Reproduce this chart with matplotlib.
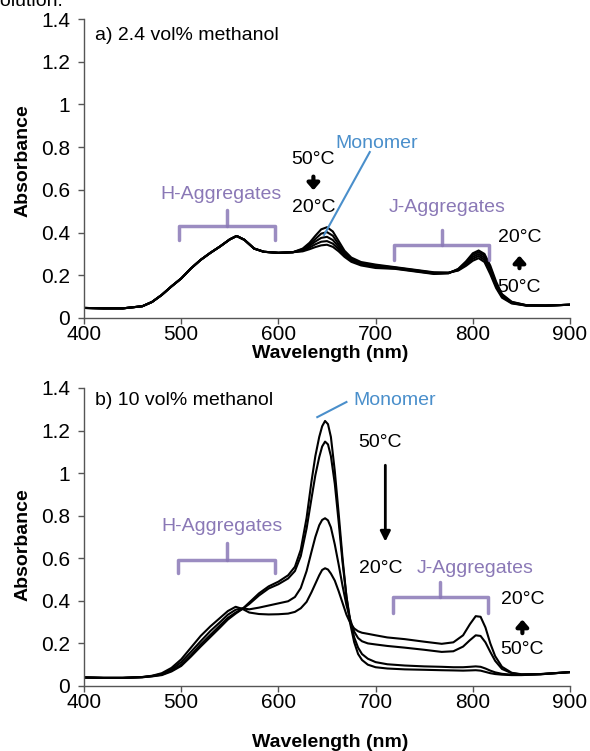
import numpy as np
import matplotlib.pyplot as plt
from matplotlib.ticker import FuncFormatter

plt.rcParams['font.family'] = ['Liberation Sans', 'DejaVu Sans']

# ---- panel a: 2.4 vol% methanol (5 temperatures, 50C -> 20C) ----
wl_a = [400, 420, 440, 460, 470, 480, 490, 500, 510, 520, 530, 540, 550, 557, 565,
        575, 585, 600, 615, 625, 632, 638, 644, 650, 656, 662, 668, 675, 685, 700,
        720, 740, 760, 775, 785, 793, 800, 806, 812, 818, 824, 830, 840, 855, 875, 900]

# H-aggregate region is shared by all five curves
h_part_a = [.047, .045, .045, .055, .075, .108, .148, .185, .232, .272, .305, .335,
            .368, .384, .366, .325, .310, .305, .308]

a_50 = h_part_a + [.325, .352, .385, .415, .425, .405, .360, .315, .283, .262, .250,
                   .238, .226, .214, .212, .222, .244, .268, .280, .262, .205, .140, .095, .068, .058, .058, .062]
a_42 = h_part_a + [.322, .345, .370, .395, .402, .385, .345, .305, .278, .258, .246,
                   .236, .224, .212, .212, .224, .250, .277, .290, .272, .215, .148, .100, .070, .058, .058, .062]
a_35 = h_part_a + [.318, .338, .358, .375, .380, .365, .333, .298, .273, .254, .242,
                   .234, .222, .210, .211, .226, .255, .286, .299, .282, .225, .155, .104, .072, .059, .058, .062]
a_27 = h_part_a + [.315, .330, .345, .357, .360, .348, .322, .292, .268, .250, .238,
                   .232, .220, .208, .210, .228, .260, .295, .308, .292, .235, .162, .108, .074, .060, .058, .062]
a_20 = h_part_a + [.312, .322, .332, .340, .343, .333, .312, .286, .263, .246, .234,
                   .230, .218, .206, .209, .230, .265, .303, .316, .300, .245, .170, .112, .076, .060, .058, .062]

# ---- panel b: 10 vol% methanol (4 temperatures) ----
wl_b = [400, 420, 440, 460, 470, 480, 490, 500, 510, 520, 530, 540, 548, 556, 563,
        570, 580, 590, 600, 610, 617, 623, 629, 634, 638, 642, 645, 648, 651, 654,
        658, 662, 666, 670, 674, 678, 682, 686, 692, 700, 712, 730, 750, 768, 780,
        790, 797, 803, 808, 813, 818, 823, 830, 840, 850, 870, 900]

b_50 = [.040, .038, .038, .041, .045, .051, .068, .094, .138, .185, .230, .275, .312, .340, .362,
        .392, .435, .468, .490, .520, .560, .640, .790, .960, 1.080, 1.170, 1.220, 1.245, 1.230, 1.170,
        1.010, .810, .600, .420, .290, .205, .150, .122, .100, .088, .082, .078, .076, .074, .073,
        .072, .073, .074, .072, .066, .060, .056, .053, .051, .051, .055, .065]
b_42 = [.040, .038, .038, .041, .046, .053, .072, .100, .145, .195, .240, .285, .320, .345, .362,
        .385, .425, .458, .478, .505, .540, .610, .740, .880, .990, 1.075, 1.125, 1.148, 1.135, 1.080,
        .950, .770, .580, .420, .305, .228, .180, .150, .128, .112, .102, .096, .092, .090, .088,
        .088, .090, .092, .090, .082, .072, .064, .057, .053, .052, .055, .065]
b_35 = [.040, .038, .038, .042, .047, .056, .078, .112, .160, .210, .258, .300, .335, .358, .365,
        .360, .368, .378, .388, .398, .418, .460, .540, .630, .700, .755, .780, .788, .778, .745,
        .665, .570, .470, .380, .310, .255, .225, .210, .200, .195, .188, .180, .170, .160, .163,
        .185, .215, .238, .235, .205, .160, .118, .080, .060, .054, .056, .065]
b_20 = [.040, .038, .038, .042, .048, .060, .085, .125, .180, .235, .280, .320, .352, .372, .362,
        .345, .338, .336, .337, .340, .348, .365, .395, .440, .480, .520, .545, .553, .547, .528,
        .495, .445, .390, .335, .295, .270, .257, .250, .245, .238, .228, .220, .208, .198, .205,
        .238, .290, .328, .325, .275, .200, .140, .090, .062, .055, .056, .065]

x_ticks = [400, 500, 600, 700, 800, 900]
y_ticks = [0, 0.2, 0.4, 0.6, 0.8, 1, 1.2, 1.4]

purple = '#8a78b6'
blue = '#4a8fcb'
fs = 14
fs_tick = 15

fig = plt.figure(figsize=(5.9, 7.51), dpi=100)
ax1 = fig.add_axes([0.1424, 0.5766, 0.8237, 0.3981])
ax2 = fig.add_axes([0.1424, 0.0866, 0.8237, 0.3968])

for ax in (ax1, ax2):
    ax.set_xlim(400, 900)
    ax.set_ylim(0, 1.4)
    ax.set_xticks(x_ticks)
    ax.set_yticks(y_ticks)
    ax.yaxis.set_major_formatter(FuncFormatter(lambda v, p: '%g' % v))
    for s in ('top', 'right'):
        ax.spines[s].set_visible(False)
    for s in ('left', 'bottom'):
        ax.spines[s].set_color('#555555')
        ax.spines[s].set_linewidth(1)
    ax.tick_params(axis='x', direction='out', length=4, width=1, color='#555555',
                   labelsize=fs_tick, pad=1)
    ax.tick_params(axis='y', direction='out', length=4, width=1, color='#555555',
                   labelsize=fs_tick, pad=6)
    ax.set_xlabel('Wavelength (nm)', fontsize=fs, fontweight='bold')
    ax.set_ylabel('Absorbance', fontsize=fs, fontweight='bold')

ax1.xaxis.set_label_coords(0.506, -0.092)
ax2.xaxis.set_label_coords(0.506, -0.16)
ax1.yaxis.set_label_coords(-0.108, 0.525)
ax2.yaxis.set_label_coords(-0.108, 0.475)

for y in (a_50, a_42, a_35, a_27, a_20):
    ax1.plot(wl_a, y, color='black', lw=1.5)
for y in (b_50, b_42, b_35, b_20):
    ax2.plot(wl_b, y, color='black', lw=1.5)


def bracket(ax, x0, x1, ymid, ylow, xtip, ytip):
    kw = dict(color=purple, lw=2.5, alpha=0.85, solid_capstyle='round', solid_joinstyle='round')
    ax.plot([x0, x0, x1, x1], [ylow, ymid, ymid, ylow], **kw)
    ax.plot([xtip, xtip], [ymid, ytip], **kw)


# panel a annotations
ax1.text(411, 1.325, 'a) 2.4 vol% methanol', fontsize=fs, va='center')
ax1.text(541, 0.576, 'H-Aggregates', color=purple, fontsize=fs, ha='center', va='center')
bracket(ax1, 498, 596, 0.431, 0.365, 547, 0.506)
ax1.text(774, 0.515, 'J-Aggregates', color=purple, fontsize=fs, ha='center', va='center')
bracket(ax1, 719, 817, 0.342, 0.272, 768, 0.412)
ax1.text(701, 0.815, 'Monomer', color=blue, fontsize=fs, ha='center', va='center')
ax1.plot([694, 647], [0.777, 0.389], color=blue, lw=1.5)
ax1.text(636, 0.744, '50°C', fontsize=fs, ha='center', va='center')
ax1.text(636, 0.515, '20°C', fontsize=fs, ha='center', va='center')
ax1.annotate('', xy=(636, 0.585), xytext=(636, 0.675),
             arrowprops=dict(arrowstyle='-|>,head_width=0.35,head_length=0.4', lw=3, color='black'))
ax1.text(848, 0.379, '20°C', fontsize=fs, ha='center', va='center')
ax1.text(848, 0.145, '50°C', fontsize=fs, ha='center', va='center')
ax1.annotate('', xy=(848, 0.305), xytext=(848, 0.22),
             arrowprops=dict(arrowstyle='-|>,head_width=0.35,head_length=0.4', lw=3, color='black'))

# panel b annotations
ax2.text(411, 1.339, 'b) 10 vol% methanol', fontsize=fs, va='center')
ax2.text(720, 1.339, 'Monomer', color=blue, fontsize=fs, ha='center', va='center')
ax2.plot([670, 640], [1.334, 1.263], color=blue, lw=1.5)
ax2.text(705, 1.146, '50°C', fontsize=fs, ha='center', va='center')
ax2.annotate('', xy=(710, 0.665), xytext=(710, 1.05),
             arrowprops=dict(arrowstyle='-|>,head_width=0.3,head_length=0.6', lw=2, color='black'))
ax2.text(705, 0.554, '20°C', fontsize=fs, ha='center', va='center')
ax2.text(542, 0.747, 'H-Aggregates', color=purple, fontsize=fs, ha='center', va='center')
bracket(ax2, 497, 596, 0.592, 0.531, 547, 0.672)
ax2.text(802, 0.554, 'J-Aggregates', color=purple, fontsize=fs, ha='center', va='center')
bracket(ax2, 718, 816, 0.418, 0.343, 766, 0.488)
ax2.text(851, 0.404, '20°C', fontsize=fs, ha='center', va='center')
ax2.text(851, 0.169, '50°C', fontsize=fs, ha='center', va='center')
ax2.annotate('', xy=(851, 0.325), xytext=(851, 0.235),
             arrowprops=dict(arrowstyle='-|>,head_width=0.35,head_length=0.4', lw=3, color='black'))

# clipped line of document text above the chart
fig.text(-0.017, 0.992, 'solution.', fontsize=fs, va='baseline')

fig.savefig('out.png', dpi=100)
